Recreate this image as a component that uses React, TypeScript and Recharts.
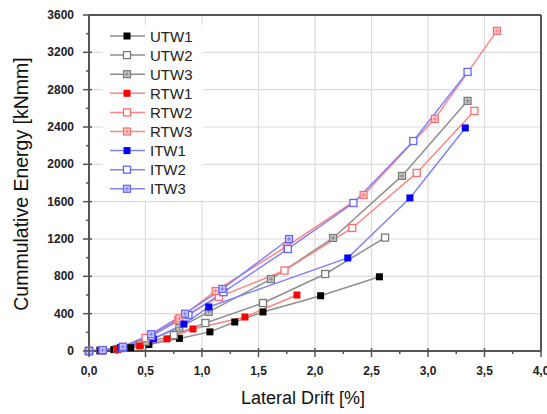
import React from 'react';
import {
  LineChart,
  Line,
  XAxis,
  YAxis,
  CartesianGrid,
  ReferenceLine,
  Label
} from 'recharts';

// [lateral drift %, cumulative energy kNmm]
const UTW1 = [[0, 0], [0.1, 5], [0.22, 15], [0.37, 35], [0.53, 70], [0.8, 135], [1.07, 205], [1.29, 311], [1.54, 418], [2.05, 592], [2.57, 795]];
const UTW2 = [[0, 0], [0.1, 5], [0.25, 20], [0.45, 70], [0.75, 170], [1.03, 300], [1.54, 514], [2.09, 825], [2.62, 1215]];
const UTW3 = [[0, 0], [0.12, 8], [0.28, 30], [0.5, 100], [0.8, 250], [1.06, 420], [1.61, 770], [2.16, 1211], [2.77, 1876], [3.35, 2680]];
const RTW1 = [[0, 0], [0.1, 5], [0.25, 20], [0.45, 55], [0.69, 130], [0.92, 236], [1.38, 364], [1.84, 600]];
const RTW2 = [[0, 0], [0.12, 8], [0.3, 35], [0.5, 140], [0.79, 332], [1.15, 580], [1.73, 862], [2.33, 1318], [2.9, 1908], [3.41, 2572]];
const RTW3 = [[0, 0], [0.12, 10], [0.3, 45], [0.55, 170], [0.8, 350], [1.12, 643], [1.75, 1120], [2.43, 1672], [3.06, 2487], [3.61, 3430]];
const ITW1 = [[0, 0], [0.1, 6], [0.28, 35], [0.57, 130], [0.84, 289], [1.06, 472], [2.29, 997], [2.84, 1640], [3.33, 2390]];
const ITW2 = [[0, 0], [0.12, 8], [0.3, 40], [0.55, 160], [0.88, 385], [1.19, 630], [1.76, 1093], [2.34, 1586], [2.87, 2250], [3.35, 2990]];
const ITW3 = [[0, 0], [0.12, 10], [0.3, 45], [0.55, 180], [0.85, 400], [1.18, 665], [1.77, 1200]];

const xTicks = [0, 0.25, 0.5, 0.75, 1, 1.25, 1.5, 1.75, 2, 2.25, 2.5, 2.75, 3, 3.25, 3.5, 3.75, 4];
const yTicks = [0, 200, 400, 600, 800, 1000, 1200, 1400, 1600, 1800, 2000, 2200, 2400, 2600, 2800, 3000, 3200, 3400, 3600];
const xGrid = [0.5, 1, 1.5, 2, 2.5, 3, 3.5];
const yGrid = [400, 800, 1200, 1600, 2000, 2400, 2800, 3200];

const GRAY = { line: '#8f8f8f', dark: '#000000', mid: '#7a7a7a', light: '#c4c4c4' };
const RED = { line: '#ff8484', dark: '#ff0000', mid: '#ff6a6a', light: '#ffc8c8' };
const BLUE = { line: '#8282ff', dark: '#0000ff', mid: '#6464ff', light: '#c8c8ff' };

const series = [
  { name: 'UTW1', data: UTW1, c: GRAY, kind: 'filled' },
  { name: 'UTW2', data: UTW2, c: GRAY, kind: 'open' },
  { name: 'UTW3', data: UTW3, c: GRAY, kind: 'cross' },
  { name: 'RTW1', data: RTW1, c: RED, kind: 'filled' },
  { name: 'RTW2', data: RTW2, c: RED, kind: 'open' },
  { name: 'RTW3', data: RTW3, c: RED, kind: 'cross' },
  { name: 'ITW1', data: ITW1, c: BLUE, kind: 'filled' },
  { name: 'ITW2', data: ITW2, c: BLUE, kind: 'open' },
  { name: 'ITW3', data: ITW3, c: BLUE, kind: 'cross' }
];

const AXIS_LEFT = 89;
const PLOT_BOTTOM = 351;
const FONT = 'Liberation Sans, Arial, sans-serif';

const Marker = ({ cx, cy, kind, c }: any) => {
  const s = 7;
  const x = cx - s / 2;
  const y = cy - s / 2;
  if (kind === 'filled') {
    return <rect x={x} y={y} width={s} height={s} fill={c.dark} />;
  }
  if (kind === 'open') {
    return <rect x={x} y={y} width={s} height={s} fill="#fff" stroke={c.mid} strokeWidth={1.3} />;
  }
  return (
    <g>
      <rect x={x} y={y} width={s} height={s} fill={c.light} stroke={c.mid} strokeWidth={1.2} />
      <line x1={cx} y1={y + 1.5} x2={cx} y2={y + s - 1.5} stroke={c.mid} strokeWidth={0.8} />
      <line x1={x + 1.5} y1={cy} x2={x + s - 1.5} y2={cy} stroke={c.mid} strokeWidth={0.8} />
    </g>
  );
};

const YTick = ({ y, payload }: any) => {
  const v = payload.value;
  const major = v % 400 === 0;
  return (
    <g>
      <line x1={major ? AXIS_LEFT - 6 : AXIS_LEFT - 3} y1={y} x2={major ? AXIS_LEFT + 3 : AXIS_LEFT + 1} y2={y} stroke="#555" strokeWidth={1.5} />
      {major && (
        <text x={AXIS_LEFT - 15} y={y + 4} textAnchor="end" fontSize={12} fontWeight="bold" fill="#222" fontFamily={FONT}>
          {v}
        </text>
      )}
    </g>
  );
};

const XTick = ({ x, payload }: any) => {
  const v = payload.value;
  const major = Math.abs(v * 2 - Math.round(v * 2)) < 1e-6;
  return (
    <g>
      <line x1={x} y1={major ? PLOT_BOTTOM - 3 : PLOT_BOTTOM - 1} x2={x} y2={major ? PLOT_BOTTOM + 6 : PLOT_BOTTOM + 3} stroke="#555" strokeWidth={1.5} />
      {major && (
        <text x={x} y={PLOT_BOTTOM + 24} textAnchor="middle" fontSize={12} fontWeight="bold" fill="#222" fontFamily={FONT}>
          {v.toFixed(1).replace('.', ',')}
        </text>
      )}
    </g>
  );
};

const LegendBox = () => (
  <svg width={100} height={175} style={{ position: 'absolute', left: 103, top: 25 }}>
    <rect x={0} y={0} width={100} height={175} fill="#fff" />
    {series.map((s, i) => {
      const cy = 11 + i * 19.1;
      return (
        <g key={s.name}>
          <line x1={7} y1={cy} x2={42} y2={cy} stroke={s.c.line} strokeWidth={1.5} />
          <Marker cx={24} cy={cy} kind={s.kind} c={s.c} />
          <text x={47} y={cy + 5.5} fontSize={15} fill="#222" fontFamily={FONT}>
            {s.name}
          </text>
        </g>
      );
    })}
  </svg>
);

export default function App() {
  return (
    <div style={{ position: 'absolute', left: 0, top: 0, width: 547, height: 414, background: '#fff' }}>
      <LineChart width={547} height={414} margin={{ top: 15, right: 6, bottom: 13, left: 0 }}>
        <CartesianGrid stroke="#dcdcdc" strokeWidth={1.2} horizontalValues={yGrid} verticalValues={xGrid} />
        <XAxis
          type="number"
          dataKey="x"
          domain={[0, 4]}
          ticks={xTicks}
          interval={0}
          height={50}
          axisLine={{ stroke: '#555', strokeWidth: 2 }}
          tickLine={false}
          tick={<XTick />}
          allowDuplicatedCategory={false}
        >
          <Label
            content={() => (
              <text x={303} y={404} textAnchor="middle" fontSize={18} fill="#111" fontFamily={FONT}>
                Lateral Drift [%]
              </text>
            )}
          />
        </XAxis>
        <YAxis
          type="number"
          dataKey="y"
          domain={[0, 3600]}
          ticks={yTicks}
          interval={0}
          width={AXIS_LEFT}
          axisLine={{ stroke: '#555', strokeWidth: 2 }}
          tickLine={false}
          tick={<YTick />}
        >
          <Label
            content={() => (
              <text x={28} y={184} transform="rotate(-90 28 184)" textAnchor="middle" fontSize={19.5} fill="#111" fontFamily={FONT}>
                Cummulative Energy [kNmm]
              </text>
            )}
          />
        </YAxis>
        <ReferenceLine y={3600} stroke="#555" strokeWidth={2} />
        <ReferenceLine x={4} stroke="#555" strokeWidth={2} />
        {series.map((s) => (
          <Line
            key={s.name}
            data={s.data.map(([x, y]) => ({ x, y }))}
            dataKey="y"
            name={s.name}
            stroke={s.c.line}
            strokeWidth={1.5}
            isAnimationActive={false}
            dot={(p: any) => <Marker key={s.name + p.index} cx={p.cx} cy={p.cy} kind={s.kind} c={s.c} />}
            activeDot={false}
          />
        ))}
      </LineChart>
      <LegendBox />
    </div>
  );
}
